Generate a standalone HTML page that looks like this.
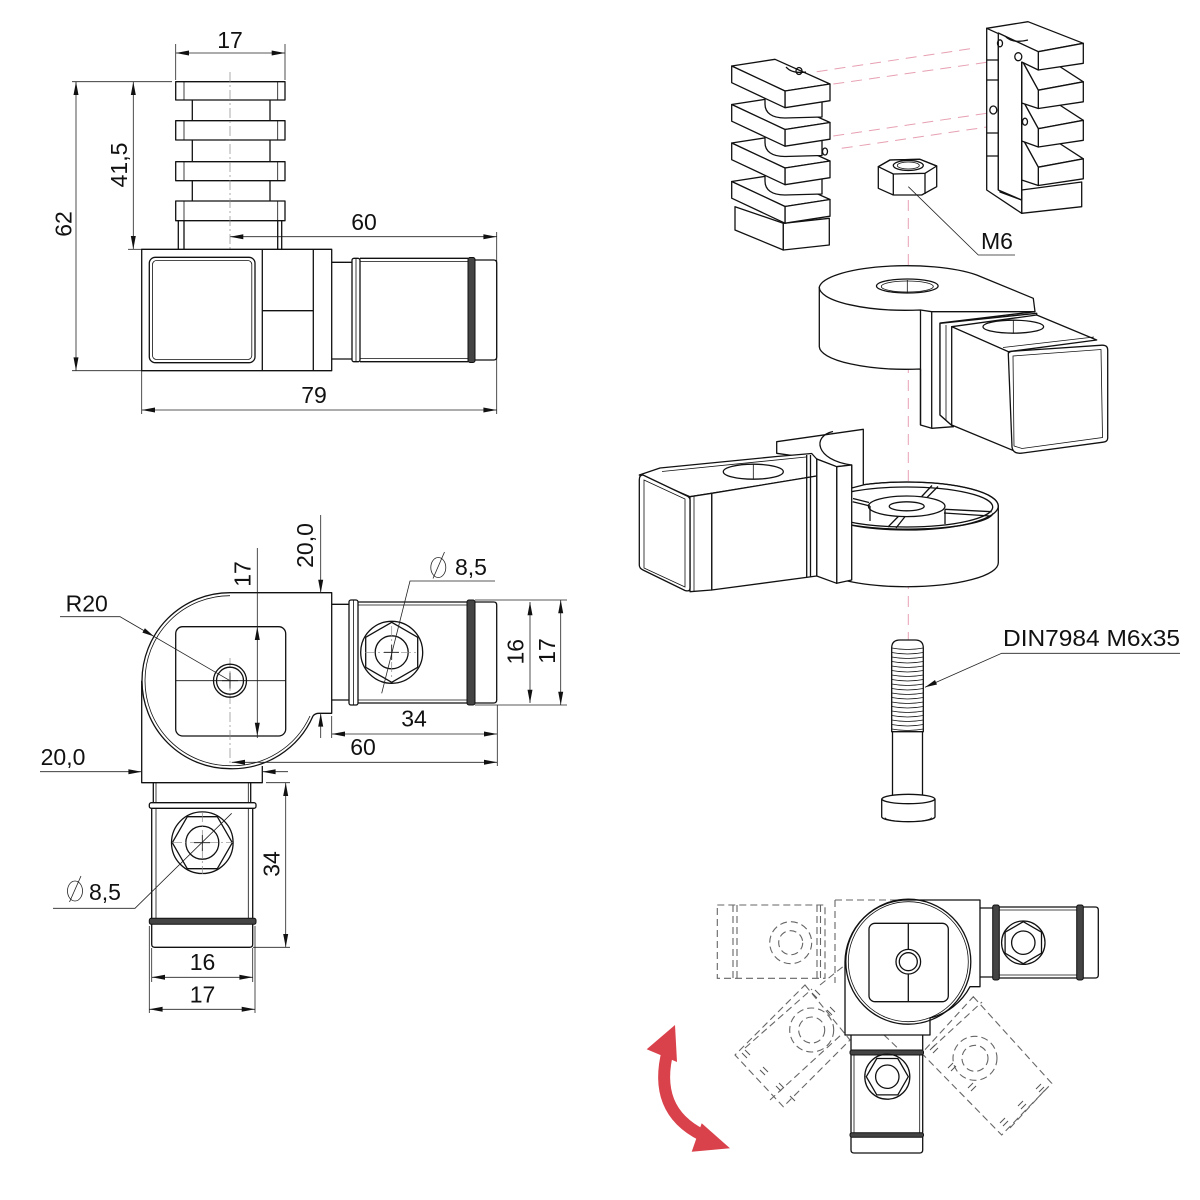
<!DOCTYPE html>
<html>
<head>
<meta charset="utf-8">
<style>
html,body{margin:0;padding:0;background:#fff;}
svg{display:block;}
.o{fill:none;stroke:#111;stroke-width:1.3;stroke-linejoin:round}
.w{fill:#fff;stroke:#111;stroke-width:1.3;stroke-linejoin:round}
.t{fill:none;stroke:#111;stroke-width:0.8}
.d{fill:none;stroke:#222;stroke-width:0.8}
.a{fill:#111;stroke:none}
.c{fill:none;stroke:#888;stroke-width:0.7;stroke-dasharray:10 3 2 3}
.g{fill:none;stroke:#666;stroke-width:1.1;stroke-dasharray:7 4}
.gm{fill:none;stroke:#555;stroke-width:1}
.p{fill:none;stroke:#e7a0b2;stroke-width:1;stroke-dasharray:11 7}
.k{fill:#444;stroke:#111;stroke-width:1}
text{font-family:"Liberation Sans",sans-serif;font-size:23px;fill:#111}
</style>
</head>
<body>
<svg width="1200" height="1200" viewBox="0 0 1200 1200" xmlns="http://www.w3.org/2000/svg">
<rect width="1200" height="1200" fill="#fff"/>

<!-- ================= TOP-LEFT VIEW ================= -->
<line class="d" x1="175.7" y1="44" x2="175.7" y2="80"/>
<line class="d" x1="285" y1="44" x2="285" y2="80"/>
<line class="d" x1="175.7" y1="53" x2="285" y2="53"/>
<polygon class="a" points="175.7,53 189,50.5 189,55.5"/>
<polygon class="a" points="285,53 271.7,50.5 271.7,55.5"/>
<text x="230" y="48" text-anchor="middle">17</text>
<line class="d" x1="72" y1="81.7" x2="172" y2="81.7"/>
<line class="d" x1="72" y1="370.7" x2="141.7" y2="370.7"/>
<line class="d" x1="76" y1="81.7" x2="76" y2="370.7"/>
<polygon class="a" points="76,81.7 73.5,95 78.5,95"/>
<polygon class="a" points="76,370.7 73.5,357.4 78.5,357.4"/>
<text transform="translate(71.5,224) rotate(-90)" text-anchor="middle">62</text>
<line class="d" x1="128" y1="249.3" x2="141.7" y2="249.3"/>
<line class="d" x1="133.3" y1="81.7" x2="133.3" y2="249.3"/>
<polygon class="a" points="133.3,81.7 130.8,95 135.8,95"/>
<polygon class="a" points="133.3,249.3 130.8,236 135.8,236"/>
<text transform="translate(127,165) rotate(-90)" text-anchor="middle">41,5</text>
<line class="d" x1="230" y1="236.7" x2="496.7" y2="236.7"/>
<line class="d" x1="496.7" y1="232" x2="496.7" y2="414"/>
<polygon class="a" points="230,236.7 243.3,234.2 243.3,239.2"/>
<polygon class="a" points="496.7,236.7 483.4,234.2 483.4,239.2"/>
<text x="364" y="230" text-anchor="middle">60</text>
<line class="d" x1="141.7" y1="371" x2="141.7" y2="414"/>
<line class="d" x1="141.7" y1="410" x2="496.7" y2="410"/>
<polygon class="a" points="141.7,410 155,407.5 155,412.5"/>
<polygon class="a" points="496.7,410 483.4,407.5 483.4,412.5"/>
<text x="314" y="403" text-anchor="middle">79</text>

<g>
<line class="o" x1="192.3" y1="100" x2="192.3" y2="201"/>
<line class="o" x1="270" y1="100" x2="270" y2="201"/>
<rect class="w" x="175.7" y="81.7" width="109.3" height="18.3"/>
<rect class="w" x="175.7" y="120.7" width="109.3" height="19.3"/>
<rect class="w" x="175.7" y="161.7" width="109.3" height="19"/>
<rect class="w" x="175.7" y="201" width="109.3" height="19.7"/>
<path class="t" d="M184,81.7V100M277.7,81.7V100M184,120.7V140M277.7,120.7V140M184,161.7V180.7M277.7,161.7V180.7M184,201V220.7M277.7,201V220.7"/>
<path class="o" d="M178.3,220.7V249.3M184,220.7V249.3M277.7,220.7V249.3M281.7,220.7V249.3"/>
</g>
<line class="c" x1="230" y1="72" x2="230" y2="250"/>
<rect class="w" x="141.7" y="249.3" width="190" height="121.4"/>
<path class="o" d="M262.3,249.3V370.7M313.3,249.3V370.7M262.3,310.7H313.3"/>
<rect class="o" x="149.3" y="257.3" width="105.7" height="105.4" rx="6"/>
<rect class="t" x="152.5" y="260.5" width="99.3" height="99" rx="4"/>
<path class="o" d="M331.7,262.3H352M331.7,359H352"/>
<rect class="o" x="352" y="258.3" width="8" height="103.4" rx="2"/>
<line class="t" x1="356" y1="258.3" x2="356" y2="361.7"/>
<path class="o" d="M360,258.3H468M360,361.7H468"/>
<path class="t" d="M360,261.5H468M360,358.5H468"/>
<rect class="k" x="468" y="257.5" width="7" height="105" rx="2"/>
<path class="o" d="M475,260H493.7Q496.7,260 496.7,263V357Q496.7,360 493.7,360H475"/>

<!-- ================= BOTTOM-LEFT VIEW ================= -->
<path class="w" d="M230,592.7H331.7V713.3H319Q315,713.3 313,716 A88,88 0 0 1 230,768.7 L230,768.7 A88,88 0 0 1 142,680.7 A88,88 0 0 1 230,592.7Z"/>
<path class="t" d="M230,595.7 A85,85 0 0 0 145,680.7 A85,85 0 0 0 230,765.7 A85,85 0 0 0 310,716"/>
<path class="o" d="M141.7,680.7V782.7H262.3V766"/>
<rect class="o" x="175.7" y="626.7" width="110" height="109.3" rx="7"/>
<line class="t" x1="175.7" y1="680.7" x2="285.7" y2="680.7"/>
<line class="c" x1="230" y1="658" x2="230" y2="765"/>
<circle class="o" cx="230" cy="680.7" r="16.5"/>
<circle class="o" cx="230" cy="680.7" r="13.5"/>
<path class="t" d="M222,680.7H238M230,672.7V688.7"/>
<line class="d" x1="257.3" y1="548" x2="257.3" y2="738"/>
<polygon class="a" points="257.3,626.7 254.8,640 259.8,640"/>
<polygon class="a" points="257.3,736 254.8,722.7 259.8,722.7"/>
<text transform="translate(250.7,574) rotate(-90)" text-anchor="middle">17</text>
<path class="d" d="M60,616.7H120L230,680.7"/>
<polygon class="a" points="154,636.4 142.4,632.6 144.9,628.2"/>
<text x="86.7" y="611.7" text-anchor="middle">R20</text>
<line class="d" x1="320.7" y1="515" x2="320.7" y2="593"/>
<line class="d" x1="320.7" y1="713.3" x2="320.7" y2="738"/>
<polygon class="a" points="320.7,593 318.2,579.7 323.2,579.7"/>
<polygon class="a" points="320.7,713.3 318.2,726.6 323.2,726.6"/>
<text transform="translate(313,545.5) rotate(-90)" text-anchor="middle">20,0</text>
<line class="d" x1="40" y1="771.7" x2="141.7" y2="771.7"/>
<line class="d" x1="262.3" y1="771.7" x2="288" y2="771.7"/>
<polygon class="a" points="141.7,771.7 128.4,769.2 128.4,774.2"/>
<polygon class="a" points="262.3,771.7 275.6,769.2 275.6,774.2"/>
<text x="63" y="765" text-anchor="middle">20,0</text>

<path class="o" d="M331.7,604.3H349M331.7,700H349"/>
<rect class="o" x="349" y="600" width="9" height="105" rx="2"/>
<line class="t" x1="353.5" y1="600" x2="353.5" y2="705"/>
<path class="o" d="M358,602H467M358,703H467"/>
<path class="t" d="M358,605H467M358,700H467"/>
<rect class="k" x="467" y="600" width="8" height="105" rx="2"/>
<path class="o" d="M475,602H493.7Q496.7,602 496.7,605V700Q496.7,703 493.7,703H475"/>
<circle class="o" cx="391.7" cy="652.3" r="31"/>
<polygon class="o" points="391.7,622.3 417.7,637.3 417.7,667.3 391.7,682.3 365.7,667.3 365.7,637.3"/>
<circle class="o" cx="391.7" cy="652.3" r="16.5"/>
<path class="c" d="M365,652.3H418M391.7,626V678"/>
<path class="t" d="M384,652.3H399M391.7,645V660"/>
<path class="d" d="M495,581H410L381.7,693.3"/>
<ellipse class="d" cx="438.3" cy="567.5" rx="7.5" ry="10"/>
<line class="d" x1="433" y1="578.5" x2="444.5" y2="552"/>
<text x="455" y="575">8,5</text>
<line class="d" x1="331.7" y1="716" x2="331.7" y2="738"/>
<line class="d" x1="497.3" y1="705" x2="497.3" y2="766"/>
<line class="d" x1="331.7" y1="734" x2="497.3" y2="734"/>
<polygon class="a" points="331.7,734 345,731.5 345,736.5"/>
<polygon class="a" points="497.3,734 484,731.5 484,736.5"/>
<text x="414" y="726.7" text-anchor="middle">34</text>
<line class="d" x1="231.7" y1="762.3" x2="497.3" y2="762.3"/>
<polygon class="a" points="231.7,762.3 245,759.8 245,764.8"/>
<polygon class="a" points="497.3,762.3 484,759.8 484,764.8"/>
<text x="363" y="755" text-anchor="middle">60</text>
<line class="d" x1="475" y1="600" x2="567" y2="600"/>
<line class="d" x1="475" y1="705" x2="567" y2="705"/>
<line class="d" x1="530" y1="602" x2="530" y2="703"/>
<polygon class="a" points="530,602 527.5,615.3 532.5,615.3"/>
<polygon class="a" points="530,703 527.5,689.7 532.5,689.7"/>
<text transform="translate(523.3,651.7) rotate(-90)" text-anchor="middle">16</text>
<line class="d" x1="560.7" y1="600" x2="560.7" y2="705"/>
<polygon class="a" points="560.7,600 558.2,613.3 563.2,613.3"/>
<polygon class="a" points="560.7,705 558.2,691.7 563.2,691.7"/>
<text transform="translate(555,651) rotate(-90)" text-anchor="middle">17</text>

<path class="o" d="M153.3,782.7V803M250.7,782.7V803"/>
<path class="t" d="M156,782.7V803M248.3,782.7V803"/>
<rect class="o" x="149.3" y="802.7" width="106.7" height="5.6" rx="2"/>
<path class="o" d="M151.7,808.3V918.3M252.7,808.3V918.3"/>
<path class="t" d="M156,808.3V918.3M248.3,808.3V918.3"/>
<rect class="k" x="149.3" y="918.3" width="106.7" height="6" rx="2"/>
<path class="o" d="M151.7,924.3V944.3Q151.7,947.3 154.7,947.3H249.7Q252.7,947.3 252.7,944.3V924.3"/>
<circle class="o" cx="202.3" cy="842.7" r="30.8"/>
<polygon class="o" points="232.3,842.7 217.3,868.7 187.3,868.7 172.3,842.7 187.3,816.7 217.3,816.7"/>
<circle class="o" cx="202.3" cy="842.7" r="16.5"/>
<path class="c" d="M172,842.7H233M202.3,812V874"/>
<path class="t" d="M194,842.7H210M202.3,835V851"/>
<path class="d" d="M53,908.3H135L231.7,813.3"/>
<ellipse class="d" cx="75" cy="891" rx="7.5" ry="10"/>
<line class="d" x1="69.5" y1="902" x2="81" y2="876"/>
<text x="89" y="900">8,5</text>
<line class="d" x1="266" y1="782.7" x2="290" y2="782.7"/>
<line class="d" x1="253" y1="947.3" x2="290" y2="947.3"/>
<line class="d" x1="285.7" y1="782.7" x2="285.7" y2="947.3"/>
<polygon class="a" points="285.7,782.7 283.2,796 288.2,796"/>
<polygon class="a" points="285.7,947.3 283.2,934 288.2,934"/>
<text transform="translate(279.3,864) rotate(-90)" text-anchor="middle">34</text>
<line class="d" x1="151.7" y1="948" x2="151.7" y2="982"/>
<line class="d" x1="252.7" y1="948" x2="252.7" y2="982"/>
<line class="d" x1="149.3" y1="926" x2="149.3" y2="1013"/>
<line class="d" x1="255" y1="926" x2="255" y2="1013"/>
<line class="d" x1="151.7" y1="977.3" x2="252.7" y2="977.3"/>
<polygon class="a" points="151.7,977.3 165,974.8 165,979.8"/>
<polygon class="a" points="252.7,977.3 239.4,974.8 239.4,979.8"/>
<text x="202.5" y="970" text-anchor="middle">16</text>
<line class="d" x1="149.3" y1="1009.3" x2="255" y2="1009.3"/>
<polygon class="a" points="149.3,1009.3 162.6,1006.8 162.6,1011.8"/>
<polygon class="a" points="255,1009.3 241.7,1006.8 241.7,1011.8"/>
<text x="202.5" y="1002.3" text-anchor="middle">17</text>

<!-- ================= EXPLODED VIEW ================= -->
<line class="p" x1="908.3" y1="200" x2="908.3" y2="640"/>
<line class="p" x1="816.7" y1="71.7" x2="973.3" y2="48.3"/>
<line class="p" x1="833.3" y1="84" x2="1015" y2="58.3"/>
<line class="p" x1="833.3" y1="136" x2="986.7" y2="113.3"/>
<line class="p" x1="841.7" y1="148.3" x2="1023.3" y2="121.7"/>

<g>
<polygon class="w" points="735,206.7 783.3,223.3 783.3,250 735,230"/>
<polygon class="w" points="783.3,223.3 829.3,218.3 829.3,245 783.3,250"/>
<polygon class="w" points="731.7,181.5 775,174.8 830,199.5 785,206.5"/>
<polygon class="w" points="785,206.5 830,199.5 830,216.2 785,223.2"/>
<polygon class="w" points="731.7,181.5 785,206.5 785,223.2 731.7,198.2"/>
<path class="w" d="M765,172 L822,166 L822,194 L785,195 C772,195 765,190 765,181Z"/>
<polygon class="w" points="731.7,143 775,136.3 830,161 785,168"/>
<polygon class="w" points="785,168 830,161 830,177.7 785,184.7"/>
<polygon class="w" points="731.7,143 785,168 785,184.7 731.7,159.7"/>
<path class="w" d="M765,133.5 L822,127.5 L822,155.5 L785,156.5 C772,156.5 765,151.5 765,142.5Z"/>
<polygon class="w" points="731.7,104.5 775,97.8 830,122.5 785,129.5"/>
<polygon class="w" points="785,129.5 830,122.5 830,139.2 785,146.2"/>
<polygon class="w" points="731.7,104.5 785,129.5 785,146.2 731.7,121.2"/>
<path class="w" d="M765,95 L822,89 L822,117 L785,118 C772,118 765,113 765,104Z"/>
<polygon class="w" points="731.7,66 775,59.3 830,84 785,91"/>
<polygon class="w" points="785,91 830,84 830,100.7 785,107.7"/>
<polygon class="w" points="731.7,66 785,91 785,107.7 731.7,82.7"/>
<path class="o" d="M786,67 Q792,74 806,72"/>
<ellipse class="o" cx="799" cy="71" rx="3" ry="3.5"/>
<ellipse class="o" cx="825" cy="151.5" rx="2.5" ry="3.5"/>
</g>

<g>
<polygon class="w" points="1021.7,190 1081.7,182 1081.7,206.7 1021.7,213.3"/>
<polygon class="w" points="986.7,28.3 1000,30 1000,192 1021.7,200 1021.7,213.3 986.7,190"/>
<path class="o" d="M998.3,40V190M986.7,60H998M986.7,80H998M986.7,133H998M986.7,156H998"/>
<polygon class="w" points="1021.7,137 1045,134 1083.3,158.8 1038.3,167.2"/>
<polygon class="w" points="1038.3,167.2 1083.3,158.8 1083.3,178.8 1038.3,185.5"/>
<polygon class="w" points="1021.7,137 1038.3,167.2 1038.3,185.5 1021.7,180"/>
<polygon class="w" points="1021.7,98.5 1045,95.5 1083.3,120.3 1038.3,128.7"/>
<polygon class="w" points="1038.3,128.7 1083.3,120.3 1083.3,140.3 1038.3,147"/>
<polygon class="w" points="1021.7,98.5 1038.3,128.7 1038.3,147 1021.7,141"/>
<polygon class="w" points="1021.7,60 1045,57 1083.3,81.8 1038.3,90.2"/>
<polygon class="w" points="1038.3,90.2 1083.3,81.8 1083.3,101.8 1038.3,108.5"/>
<polygon class="w" points="1021.7,60 1038.3,90.2 1038.3,108.5 1021.7,103"/>
<polygon class="w" points="986.7,28.3 1028,21.7 1083.3,43.3 1038.3,51.7"/>
<polygon class="w" points="1038.3,51.7 1083.3,43.3 1083.3,63.3 1038.3,70"/>
<polygon class="w" points="998.3,33 1038.3,51.7 1038.3,70 1021.7,62 1021.7,200 998.3,190"/>
<path class="o" d="M1021.7,62V200M1005,36 Q1012,44 1028,40"/>
<ellipse class="o" cx="1000" cy="43.3" rx="2.5" ry="3.5"/>
<ellipse class="o" cx="1018.3" cy="56.7" rx="3.5" ry="4"/>
<ellipse class="o" cx="993.3" cy="110" rx="3.5" ry="4"/>
<ellipse class="o" cx="1025" cy="121.7" rx="2.5" ry="3.5"/>
</g>

<polygon class="w" points="878.3,166.7 890,160 920,159.3 936.7,166 936.7,186.7 921.7,195 893.3,195 878.3,188.3"/>
<polygon class="o" points="878.3,166.7 890,160 920,159.3 936.7,166 925,173.3 893.3,174"/>
<path class="o" d="M893.3,174V195M925,173.3V194"/>
<ellipse class="o" cx="908.3" cy="165.5" rx="15" ry="5"/>
<ellipse class="t" cx="908.3" cy="165.5" rx="11" ry="3.5"/>
<path class="d" d="M908.3,186.7L978.3,255H1015"/>
<text x="981" y="249">M6</text>

<!-- upper body -->
<path class="w" d="M819.3,287 A87.4,23 0 0 1 976.7,275 L1033.3,298.3 L1035,311.7 L940,323 L940,415 L953.3,426.7 L931.7,428.3 L920.5,425 L920.5,369 A87.4,23 0 0 1 819.3,346.7 Z"/>
<path class="o" d="M819.3,287 A87.4,23 0 0 0 920.5,310 L931.7,311.7 L1035,311.7 M920.5,310V425M931.7,311.7V428.3"/>
<ellipse class="o" cx="907.3" cy="286" rx="30.8" ry="7"/>
<ellipse class="t" cx="907.3" cy="286.5" rx="26" ry="5.5"/>
<line class="t" x1="907.3" y1="280" x2="907.3" y2="293"/>
<polygon class="w" points="940,323.3 1036.7,313.3 1036.7,318 953.3,328 953.3,426.7 940,415"/>
<line class="t" x1="946" y1="325" x2="946" y2="420"/>
<polygon class="w" points="951.7,326.7 1036.7,315 1096.7,340 1008.3,351.7"/>
<polygon class="w" points="951.7,326.7 1008.3,351.7 1020,453.3 951.7,425"/>
<ellipse class="o" cx="1013.3" cy="326.7" rx="30.3" ry="6.5"/>
<line class="t" x1="1013.3" y1="320.5" x2="1013.3" y2="333"/>
<path class="w" d="M1008.3,354 Q1008.3,351.7 1013,351.2 L1102,345.2 Q1107.7,345 1107.7,350 V438 Q1107.7,441.7 1103,442.2 L1023,453 Q1013,454.5 1012,447 Z"/>
<path class="t" d="M1013,356 L1101,349.5 L1102.5,437.5 L1022,448.5 L1014,446 Z"/>
<line class="t" x1="1003" y1="347.5" x2="1094" y2="337"/>

<!-- lower body: wheel -->
<path class="w" d="M815,506 A91.6,24 0 0 1 998.3,506 L998.3,562.7 A91.6,24 0 0 1 815,562.7 Z"/>
<ellipse class="o" cx="906.7" cy="506" rx="91.6" ry="24"/>
<ellipse class="o" cx="906.7" cy="507" rx="86" ry="20"/>
<path class="o" d="M822,511 A85,17 0 0 0 993.3,513"/>
<ellipse class="w" cx="906.7" cy="506.3" rx="38.3" ry="10.3"/>
<ellipse class="o" cx="906.7" cy="506.3" rx="17.5" ry="4.5"/>
<path class="o" d="M921.7,496.5L932,485.5M927,497.5L938,486.5M945,509.3L991.7,511.7M944,513L990,516M898.3,516.5L888,527M905,516.6L896,528M870,506L852.7,501.7M869,502.5L853,498.5"/>
<path class="o" d="M870,506V521M945,509.3V524"/>
<!-- plate -->
<polygon class="w" points="776.7,441.7 863.3,429.3 863.3,485 851.7,488 851.7,465 836.7,466.7 816.7,459 776.7,453.3"/>
<path class="o" d="M833,431.5 C812,436 815,460 851.7,465"/>
<polygon class="w" points="836.7,466.7 851.7,465 851.7,580 836.7,583.3"/>
<polygon class="w" points="816.7,459 836.7,466.7 836.7,583.3 816.7,576"/>
<!-- lower tube -->
<polygon class="w" points="639.3,475 660,468 776.7,456.5 811.7,453.5 816.7,459 816.7,476 711.7,493.3 690,496.7"/>
<polygon class="w" points="711.7,493.3 816.7,476 816.7,576 711.7,590"/>
<path class="o" d="M806.7,455V577M810.5,455V577"/>
<polygon class="w" points="690,496.7 711.7,493.3 711.7,590 690,591.7"/>
<line class="t" x1="694" y1="496" x2="694" y2="591"/>
<path class="w" d="M643,475 Q639.3,475 639.3,480 V565 Q639.3,568.3 643,570 L685,590.5 Q690,592 690,588 V500 Q690,497 686,495.5 Z"/>
<path class="t" d="M644,480 L685,499 V587 L644,568 Z"/>
<ellipse class="o" cx="753.3" cy="471.7" rx="30" ry="7.5"/>
<line class="t" x1="753.3" y1="464.5" x2="753.3" y2="479"/>
<line class="t" x1="662" y1="471.5" x2="806" y2="457"/>

<!-- bolt -->
<path class="w" d="M891.7,648 Q891.7,640 900,640 H915 Q923.3,640 923.3,648 V731.7 H891.7 Z"/>
<path class="t" d="M891.7,648q15.8,3 31.6,0M891.7,652.5q15.8,3 31.6,0M891.7,657q15.8,3 31.6,0M891.7,661.5q15.8,3 31.6,0M891.7,666q15.8,3 31.6,0M891.7,670.5q15.8,3 31.6,0M891.7,675q15.8,3 31.6,0M891.7,679.5q15.8,3 31.6,0M891.7,684q15.8,3 31.6,0M891.7,688.5q15.8,3 31.6,0M891.7,693q15.8,3 31.6,0M891.7,697.5q15.8,3 31.6,0M891.7,702q15.8,3 31.6,0M891.7,706.5q15.8,3 31.6,0M891.7,711q15.8,3 31.6,0M891.7,715.5q15.8,3 31.6,0M891.7,720q15.8,3 31.6,0M891.7,724.5q15.8,3 31.6,0M891.7,729q15.8,3 31.6,0"/>
<path class="o" d="M892.5,731.7V796M922.5,731.7V796"/>
<path class="w" d="M881.7,799 A26.7,5 0 0 1 935,799 V817 A26.7,5 0 0 1 881.7,817 Z"/>
<path class="o" d="M881.7,799 A26.7,5 0 0 0 935,799"/>
<path class="t" d="M885,817.5 A23,4 0 0 0 931.5,817.5"/>
<path class="d" d="M925,687.3L1001.7,653.3H1180"/>
<polygon class="a" points="925,687.3 935,680 937,684.5"/>
<text x="1003" y="646" textLength="177" lengthAdjust="spacingAndGlyphs">DIN7984 M6x35</text>

<!-- ================= BOTTOM-RIGHT ================= -->
<rect class="g" x="717.3" y="905" width="107.7" height="73.3"/>
<path class="g" d="M733,905V978M737,905V978M817,905V978M820.5,905V978"/>
<circle class="g" cx="790.7" cy="942.7" r="21"/>
<circle class="g" cx="790.7" cy="942.7" r="12"/>
<path class="g" d="M835,900H908M835,900V983"/>
<polygon class="g" points="805,985 850,1040 783.3,1106.7 735,1055"/>
<path class="g" d="M745,1048L812,989M770,1100L842,1034"/>
<circle class="g" cx="811.7" cy="1030" r="22"/>
<circle class="g" cx="811.7" cy="1030" r="13"/>
<polygon class="g" points="973.3,996.7 1051.7,1083.3 1001.7,1135 921.7,1053.3"/>
<path class="g" d="M932,1048L982,1002M1010,1128L1045,1090"/>
<circle class="g" cx="975" cy="1058.3" r="22"/>
<circle class="g" cx="975" cy="1058.3" r="13"/>
<path class="g" d="M848,992 L880,1030 M860,1012 L905,1055 M820,985 L870,945"/>
<!-- ghost tick marks -->
<path class="gm" d="M742,1053l5,5M745,1050l5,5M760,1070l5,5M763,1067l5,5M776,1086l5,5M779,1083l5,5M790,1096l5,5M812,993l5,5M815,990l5,5M827,1010l5,5M830,1007l5,5M1000,1123l5,-5M1003,1126l5,-5M1018,1106l5,-5M1021,1109l5,-5M1036,1089l5,-5M1039,1092l5,-5M930,1050l5,-5M933,1053l5,-5M948,1068l5,-5M951,1071l5,-5M968,1088l5,-5M971,1091l5,-5"/>
<path class="w" d="M908.3,900H980V986.7H970 A62.5,62.5 0 0 1 930,1018 V1035 H845 V962 A62.5,62.5 0 0 1 908.3,900Z"/>
<circle class="o" cx="908.3" cy="961.7" r="62.5"/>
<circle class="t" cx="908.3" cy="961.7" r="60"/>
<rect class="o" x="869" y="923.3" width="79.3" height="78.4" rx="6"/>
<line class="o" x1="908.3" y1="923.3" x2="908.3" y2="1001.7"/>
<circle class="w" cx="908.3" cy="961.7" r="12.3"/>
<circle class="o" cx="908.3" cy="961.7" r="9"/>
<path class="o" d="M980,908H993M980,977H993"/>
<rect class="k" x="992.7" y="905" width="6.6" height="75" rx="2"/>
<path class="o" d="M999.3,907H1076.7M999.3,978H1076.7"/>
<path class="t" d="M999.3,910H1076.7M999.3,975H1076.7"/>
<rect class="k" x="1076.7" y="905" width="6.6" height="75" rx="2"/>
<path class="o" d="M1083.3,907H1095.3Q1098.3,907 1098.3,910V975Q1098.3,978 1095.3,978H1083.3"/>
<circle class="o" cx="1023.3" cy="942.7" r="21.7"/>
<polygon class="o" points="1023.3,921.7 1041.5,932.2 1041.5,953.2 1023.3,963.7 1005.1,953.2 1005.1,932.2"/>
<circle class="o" cx="1023.3" cy="942.7" r="11.7"/>
<path class="o" d="M851,1035V1050M922.7,1035V1050"/>
<rect class="k" x="850" y="1050" width="73.5" height="5" rx="2"/>
<path class="o" d="M851,1055V1132.7M922.7,1055V1132.7"/>
<path class="t" d="M854,1055V1132.7M919.7,1055V1132.7"/>
<rect class="k" x="850" y="1132.7" width="73.5" height="4.5" rx="2"/>
<path class="o" d="M851,1137V1150Q851,1153 854,1153H919.7Q922.7,1153 922.7,1150V1137"/>
<circle class="o" cx="887.3" cy="1076.7" r="22.5"/>
<polygon class="o" points="908.3,1076.7 897.8,1094.9 876.8,1094.9 866.3,1076.7 876.8,1058.5 897.8,1058.5"/>
<circle class="o" cx="887.3" cy="1076.7" r="11.7"/>

<path d="M668,1050 Q652,1110 702,1135" fill="none" stroke="#d9414b" stroke-width="12"/>
<polygon points="675,1025 646.7,1049.3 677,1062" fill="#d9414b"/>
<polygon points="730,1148.3 691.7,1151.7 701.7,1123.3" fill="#d9414b"/>
</svg>
</body>
</html>
